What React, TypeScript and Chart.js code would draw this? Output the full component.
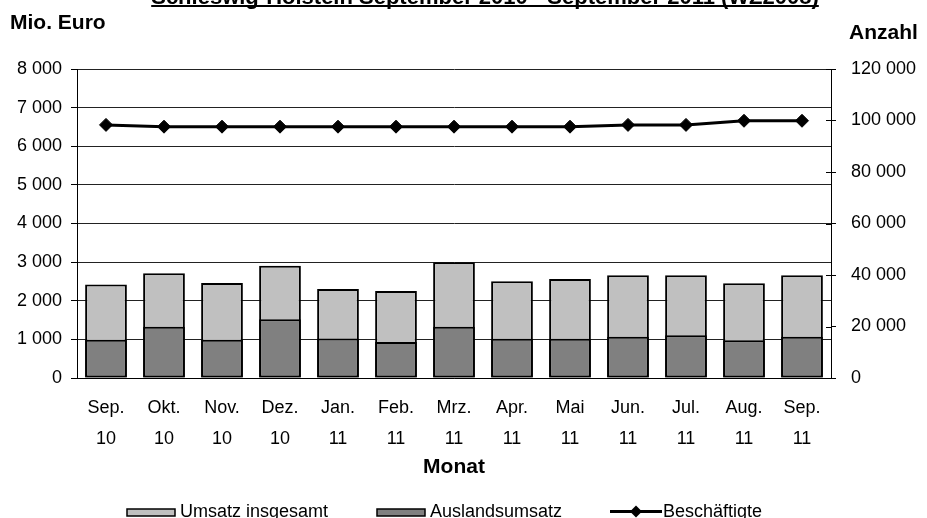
import React, { useEffect, useRef } from "react";
import { Chart, registerables } from "chart.js";

Chart.register(...registerables);

const TITLE = "Schleswig-Holstein September 2010 - September 2011 (WZ2008)";
const LEFT_AXIS_TITLE = "Mio. Euro";
const RIGHT_AXIS_TITLE = "Anzahl";
const X_AXIS_TITLE = "Monat";

const months: string[][] = [
  ["Sep.", "10"], ["Okt.", "10"], ["Nov.", "10"], ["Dez.", "10"],
  ["Jan.", "11"], ["Feb.", "11"], ["Mrz.", "11"], ["Apr.", "11"],
  ["Mai", "11"], ["Jun.", "11"], ["Jul.", "11"], ["Aug.", "11"], ["Sep.", "11"],
];

const umsatzInsgesamt = [2420, 2715, 2460, 2905, 2305, 2255, 3000, 2505, 2560, 2660, 2660, 2455, 2660];
const auslandsumsatz = [990, 1330, 990, 1520, 1025, 930, 1330, 1015, 1015, 1065, 1110, 980, 1065];
const beschaeftigte = [98300, 97600, 97600, 97600, 97600, 97600, 97600, 97600, 97600, 98300, 98300, 99900, 99900];

const SERIES_NAMES = ["Umsatz insgesamt", "Auslandsumsatz", "Beschäftigte"];

const FONT = '"Liberation Sans", Arial, sans-serif';

const fmt = (v: number) => String(v).replace(/\B(?=(\d{3})+(?!\d))/g, " ");

const annotate = {
  id: "annotate",
  afterDraw(chart: any) {
    const { ctx, chartArea } = chart;
    ctx.save();
    ctx.fillStyle = "#000";
    ctx.strokeStyle = "#000";

    // inner half of the right axis tick marks
    const y1 = chart.scales.y1;
    ctx.lineWidth = 1;
    y1.ticks.forEach((t: any) => {
      const py = Math.round(y1.getPixelForValue(t.value)) + 0.5;
      ctx.beginPath();
      ctx.moveTo(chartArea.right - 5, py);
      ctx.lineTo(chartArea.right, py);
      ctx.stroke();
    });

    // chart title (partly cut at the top)
    ctx.font = `bold 22px ${FONT}`;
    ctx.textAlign = "center";
    ctx.textBaseline = "alphabetic";
    const cx = 485;
    ctx.fillText(TITLE, cx, 4);
    const tw = ctx.measureText(TITLE).width;
    ctx.fillRect(cx - tw / 2, 5, tw, 2);

    // axis titles
    ctx.font = `bold 21px ${FONT}`;
    ctx.textBaseline = "middle";
    ctx.textAlign = "left";
    ctx.fillText(LEFT_AXIS_TITLE, 10, 23);
    ctx.fillText(RIGHT_AXIS_TITLE, 849, 33);
    ctx.textAlign = "center";
    ctx.fillText(X_AXIS_TITLE, (chartArea.left + chartArea.right) / 2, 467);

    // legend
    ctx.font = `18px ${FONT}`;
    ctx.textAlign = "left";
    ctx.textBaseline = "alphabetic";
    const base = 516.5;
    const drawBox = (x: number, color: string) => {
      ctx.fillStyle = color;
      ctx.fillRect(x, 509, 48, 7);
      ctx.lineWidth = 1.5;
      ctx.strokeStyle = "#000";
      ctx.strokeRect(x, 509, 48, 7);
    };
    drawBox(127, "#C0C0C0");
    ctx.fillStyle = "#000";
    ctx.fillText(SERIES_NAMES[0], 180, base);
    drawBox(377, "#808080");
    ctx.fillStyle = "#000";
    ctx.fillText(SERIES_NAMES[1], 430, base);
    ctx.lineWidth = 3;
    ctx.beginPath();
    ctx.moveTo(610, 511.5);
    ctx.lineTo(662, 511.5);
    ctx.stroke();
    ctx.beginPath();
    ctx.moveTo(636, 505.5);
    ctx.lineTo(642, 511.5);
    ctx.lineTo(636, 517.5);
    ctx.lineTo(630, 511.5);
    ctx.closePath();
    ctx.fill();
    ctx.fillText(SERIES_NAMES[2], 663, base);
    ctx.restore();
  },
};

export default function App() {
  const ref = useRef<HTMLCanvasElement>(null);
  useEffect(() => {
    if (!ref.current) return;
    const chart = new Chart(ref.current, {
      type: "bar",
      data: {
        labels: months,
        datasets: [
          {
            type: "line",
            label: SERIES_NAMES[2],
            data: beschaeftigte,
            yAxisID: "y1",
            borderColor: "#000",
            backgroundColor: "#000",
            borderWidth: 3,
            pointStyle: "rectRot",
            pointRadius: 6.5,
            pointBorderWidth: 1,
            pointBackgroundColor: "#000",
            pointBorderColor: "#000",
            tension: 0,
            order: 0,
          } as any,
          {
            label: SERIES_NAMES[1],
            data: auslandsumsatz,
            yAxisID: "y",
            backgroundColor: "#808080",
            borderColor: "#000",
            borderWidth: 2,
            borderSkipped: false,
            grouped: false,
            barPercentage: 0.72,
            categoryPercentage: 1,
            order: 1,
          },
          {
            label: SERIES_NAMES[0],
            data: umsatzInsgesamt,
            yAxisID: "y",
            backgroundColor: "#C0C0C0",
            borderColor: "#000",
            borderWidth: 2,
            borderSkipped: false,
            grouped: false,
            barPercentage: 0.72,
            categoryPercentage: 1,
            order: 2,
          },
        ],
      },
      options: {
        animation: false,
        responsive: false,
        devicePixelRatio: 1,
        layout: { padding: { top: 69, left: 0, right: 0, bottom: 0 } },
        plugins: {
          legend: { display: false },
          title: { display: false },
          tooltip: { enabled: false },
        },
        scales: {
          x: {
            grid: { display: false },
            border: { display: true, color: "#000", width: 1 },
            ticks: {
              color: "#000",
              padding: 7,
              maxRotation: 0,
              autoSkip: false,
              font: { family: FONT, size: 18, lineHeight: 1.72 },
            },
            afterFit: (s: any) => { s.height = 140; },
          },
          y: {
            position: "left",
            min: 0,
            max: 8000,
            grid: {
              color: "#222",
              lineWidth: 1,
              drawTicks: true,
              tickLength: 6,
              tickColor: "#000",
            },
            border: { display: true, color: "#000", width: 1 },
            ticks: {
              stepSize: 1000,
              color: "#000",
              padding: 9,
              font: { family: FONT, size: 18 },
              callback: (v: any) => fmt(Number(v)),
            },
            afterFit: (s: any) => { s.width = 77; },
          },
          y1: {
            position: "right",
            min: 0,
            max: 120000,
            grid: {
              drawOnChartArea: false,
              drawTicks: true,
              tickLength: 5,
              color: "#000",
              tickColor: "#000",
            },
            border: { display: true, color: "#000", width: 1 },
            ticks: {
              stepSize: 20000,
              color: "#000",
              padding: 15,
              font: { family: FONT, size: 18 },
              callback: (v: any) => fmt(Number(v)),
            },
            afterFit: (s: any) => { s.width = 96; },
          },
        },
      },
      plugins: [annotate],
    });
    return () => chart.destroy();
  }, []);

  return (
    <div style={{ position: "absolute", left: 0, top: 0, width: 927, height: 518, background: "#fff" }}>
      <canvas ref={ref} width={927} height={518} style={{ display: "block" }} />
    </div>
  );
}
